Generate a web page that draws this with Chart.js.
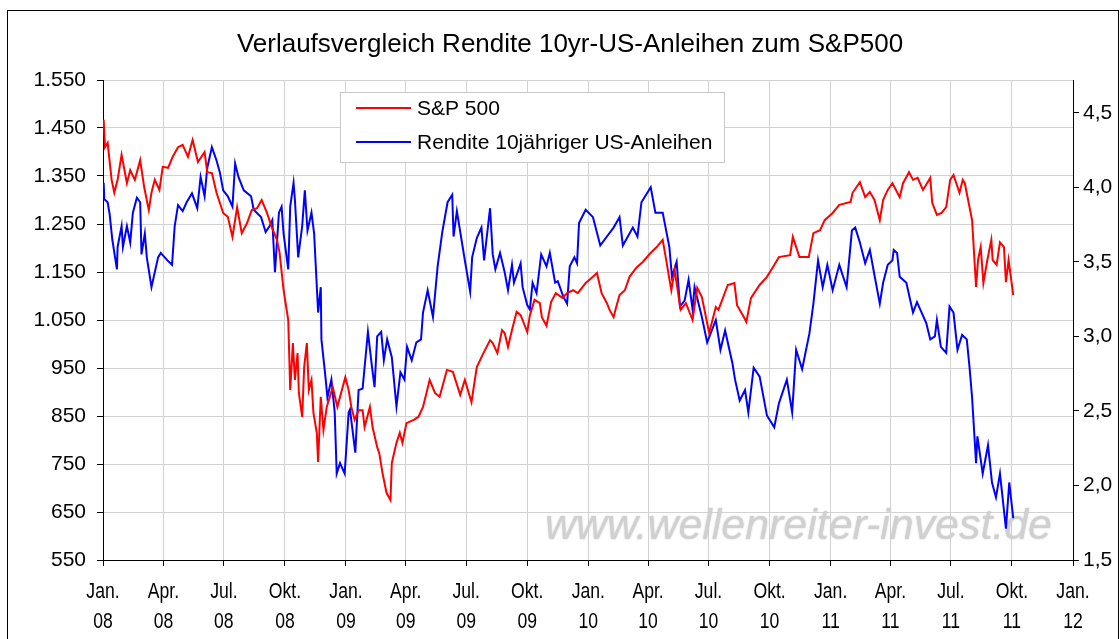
<!DOCTYPE html>
<html lang="de">
<head>
<meta charset="UTF-8">
<script src="https://cdn.jsdelivr.net/npm/chart.js"></script>
<title>Verlaufsvergleich Rendite 10yr-US-Anleihen zum S&amp;P500</title>
<style>
  html, body { margin: 0; padding: 0; background: #fff; }
  canvas { display: block; }
</style>
</head>
<body>
<canvas id="chart" width="1120" height="639"></canvas>
<script>
// S&P 500 (left axis)
var spDates = [
  '2008-01-02','2008-01-04','2008-01-08','2008-01-14','2008-01-18','2008-01-23','2008-01-29',
  '2008-02-06','2008-02-11','2008-02-18','2008-02-26',
  '2008-03-03','2008-03-10','2008-03-14','2008-03-19','2008-03-26','2008-03-31',
  '2008-04-08','2008-04-15','2008-04-23','2008-04-30',
  '2008-05-08','2008-05-15','2008-05-23',
  '2008-06-02','2008-06-06','2008-06-13','2008-06-20','2008-06-30',
  '2008-07-07','2008-07-14','2008-07-21','2008-07-28',
  '2008-08-05','2008-08-12','2008-08-20','2008-08-27',
  '2008-09-04','2008-09-11','2008-09-19','2008-09-23','2008-09-29',
  '2008-10-06','2008-10-09','2008-10-13','2008-10-16','2008-10-20','2008-10-22','2008-10-27','2008-10-30',
  '2008-11-03','2008-11-06','2008-11-10','2008-11-13','2008-11-18','2008-11-20','2008-11-24','2008-11-28',
  '2008-12-03','2008-12-12','2008-12-19','2008-12-31',
  '2009-01-05','2009-01-09','2009-01-14','2009-01-20','2009-01-26','2009-01-29',
  '2009-02-06','2009-02-10','2009-02-17','2009-02-20','2009-02-25',
  '2009-03-03','2009-03-09','2009-03-11','2009-03-18','2009-03-23','2009-03-27',
  '2009-04-02','2009-04-13','2009-04-20','2009-04-27',
  '2009-05-07','2009-05-15','2009-05-22',
  '2009-06-02','2009-06-11','2009-06-22','2009-06-29',
  '2009-07-09','2009-07-17','2009-07-27',
  '2009-08-06','2009-08-10','2009-08-17','2009-08-24','2009-08-28',
  '2009-09-02','2009-09-08','2009-09-15','2009-09-21','2009-09-24',
  '2009-10-01','2009-10-05','2009-10-12','2009-10-20','2009-10-23','2009-10-30',
  '2009-11-06','2009-11-13','2009-11-23','2009-11-30',
  '2009-12-09','2009-12-16','2009-12-28',
  '2010-01-08','2010-01-14','2010-01-21','2010-01-29',
  '2010-02-02','2010-02-08','2010-02-12','2010-02-17','2010-02-25',
  '2010-03-04','2010-03-15','2010-03-24',
  '2010-04-05','2010-04-14','2010-04-23','2010-04-27',
  '2010-05-06','2010-05-11','2010-05-20','2010-05-28',
  '2010-06-07','2010-06-14','2010-06-21',
  '2010-07-02','2010-07-12','2010-07-16','2010-07-30',
  '2010-08-09','2010-08-13','2010-08-24','2010-08-27',
  '2010-09-03','2010-09-16','2010-09-27',
  '2010-10-06','2010-10-15',
  '2010-11-01','2010-11-05','2010-11-15','2010-11-29',
  '2010-12-06','2010-12-16','2010-12-23',
  '2011-01-04','2011-01-14','2011-01-31',
  '2011-02-03','2011-02-14','2011-02-22',
  '2011-03-01','2011-03-08','2011-03-16','2011-03-21','2011-03-28',
  '2011-04-04','2011-04-15','2011-04-20','2011-04-29',
  '2011-05-05','2011-05-12','2011-05-20','2011-05-31',
  '2011-06-03','2011-06-10','2011-06-17','2011-06-24','2011-06-30',
  '2011-07-05','2011-07-14','2011-07-19','2011-07-22',
  '2011-08-02','2011-08-08','2011-08-11','2011-08-15','2011-08-19','2011-08-25','2011-08-31',
  '2011-09-02','2011-09-08','2011-09-13','2011-09-19','2011-09-22','2011-09-26',
  '2011-10-03'
];
var spValues = [
  1467,1410,1419,1342,1315,1342,1394,
  1335,1362,1342,1383,
  1327,1279,1315,1342,1321,1369,
  1367,1390,1410,1415,
  1390,1425,1379,
  1400,1358,1356,1315,1273,
  1265,1223,1285,1231,
  1252,1279,1283,1300,
  1273,1244,1217,1190,1112,
  1050,904,1002,925,981,898,848,952,
  1002,904,925,856,815,754,890,821,
  869,910,869,931,
  904,869,842,862,862,827,
  869,827,785,773,731,
  690,675,752,794,815,794,
  835,842,848,869,
  925,898,890,
  946,942,894,925,
  879,952,981,
  1008,1002,981,1029,1023,
  994,1029,1067,1060,1050,
  1025,1060,1092,1085,1056,1038,
  1088,1106,1096,1106,
  1112,1106,1127,
  1140,1148,1106,1085,
  1071,1056,1077,1102,1112,
  1140,1160,1171,
  1190,1202,1217,1185,
  1112,1154,1071,1085,
  1050,1117,1098,
  1023,1077,1071,1123,
  1127,1081,1054,1046,
  1096,1123,1140,
  1160,1181,
  1185,1223,1181,1181,
  1231,1237,1258,
  1273,1290,1296,
  1315,1337,1306,
  1317,1300,1258,1300,1321,
  1335,1306,1335,1358,
  1342,1346,1321,1346,
  1294,1269,1273,1285,1342,
  1352,1315,1342,1335,
  1258,1119,1175,1202,1127,1175,1217,
  1175,1165,1212,1202,1129,1175,
  1102
];

// Rendite 10jähriger US-Anleihen in % (right axis)
var yieldDates = [
  '2008-01-02','2008-01-03','2008-01-08','2008-01-11','2008-01-15','2008-01-22','2008-01-23','2008-01-29','2008-01-31',
  '2008-02-06','2008-02-11','2008-02-15','2008-02-21','2008-02-26','2008-02-28',
  '2008-03-04','2008-03-07','2008-03-14','2008-03-19','2008-03-24','2008-03-28',
  '2008-04-07','2008-04-14','2008-04-18','2008-04-23','2008-04-30',
  '2008-05-06','2008-05-14','2008-05-22','2008-05-27',
  '2008-06-02','2008-06-06','2008-06-13','2008-06-20','2008-06-25','2008-06-30',
  '2008-07-07','2008-07-14','2008-07-18','2008-07-23','2008-07-31',
  '2008-08-11','2008-08-15','2008-08-26',
  '2008-09-02','2008-09-08','2008-09-12','2008-09-16','2008-09-22','2008-09-26','2008-09-29',
  '2008-10-06','2008-10-09','2008-10-14','2008-10-16','2008-10-21','2008-10-27','2008-10-31',
  '2008-11-04','2008-11-10','2008-11-14','2008-11-20','2008-11-24','2008-11-25',
  '2008-12-01','2008-12-04','2008-12-10','2008-12-15','2008-12-18','2008-12-23','2008-12-30',
  '2009-01-05','2009-01-07','2009-01-15','2009-01-20','2009-01-26','2009-01-30',
  '2009-02-03','2009-02-09','2009-02-13','2009-02-17','2009-02-23','2009-02-27',
  '2009-03-04','2009-03-11','2009-03-18','2009-03-24','2009-03-30',
  '2009-04-03','2009-04-10','2009-04-17','2009-04-24','2009-04-27',
  '2009-05-04','2009-05-12','2009-05-19','2009-05-26',
  '2009-06-03','2009-06-10','2009-06-12','2009-06-17','2009-06-29',
  '2009-07-07','2009-07-10','2009-07-17','2009-07-24','2009-07-28',
  '2009-08-06','2009-08-10','2009-08-14','2009-08-21','2009-08-28',
  '2009-09-02','2009-09-08','2009-09-11','2009-09-21','2009-09-24',
  '2009-10-01','2009-10-05','2009-10-09','2009-10-15','2009-10-22','2009-10-30',
  '2009-11-04','2009-11-12','2009-11-16','2009-11-24','2009-11-30',
  '2009-12-04','2009-12-11','2009-12-15','2009-12-18','2009-12-28',
  '2010-01-08','2010-01-19','2010-01-29',
  '2010-02-08','2010-02-17','2010-02-22',
  '2010-03-09','2010-03-16','2010-03-22',
  '2010-04-05','2010-04-12','2010-04-23',
  '2010-05-03','2010-05-07','2010-05-14','2010-05-19','2010-05-26',
  '2010-06-01','2010-06-07','2010-06-10','2010-06-21','2010-06-29',
  '2010-07-12','2010-07-19','2010-07-26',
  '2010-08-06','2010-08-10','2010-08-17','2010-08-25','2010-08-30',
  '2010-09-07','2010-09-16','2010-09-27',
  '2010-10-08','2010-10-15','2010-10-27',
  '2010-11-04','2010-11-10','2010-11-19','2010-11-30',
  '2010-12-06','2010-12-13','2010-12-20','2010-12-27',
  '2011-01-04','2011-01-14','2011-01-25',
  '2011-02-02','2011-02-07','2011-02-14','2011-02-22',
  '2011-03-01','2011-03-08','2011-03-16','2011-03-21','2011-03-28',
  '2011-04-04','2011-04-06','2011-04-11','2011-04-15','2011-04-25',
  '2011-05-05','2011-05-11','2011-05-18','2011-05-25','2011-05-31',
  '2011-06-07','2011-06-10','2011-06-16','2011-06-24','2011-06-29',
  '2011-07-05','2011-07-11','2011-07-18','2011-07-25','2011-07-29',
  '2011-08-02','2011-08-08','2011-08-10','2011-08-18','2011-08-26',
  '2011-09-01','2011-09-07','2011-09-13','2011-09-22','2011-09-27',
  '2011-10-03'
];
var yieldValues = [
  4.03,3.92,3.90,3.82,3.65,3.45,3.60,3.74,3.60,
  3.74,3.63,3.83,3.93,3.90,3.55,
  3.69,3.53,3.33,3.43,3.53,3.56,
  3.51,3.48,3.74,3.88,3.84,
  3.90,3.96,3.86,4.07,
  3.94,4.13,4.27,4.18,4.10,3.98,
  3.94,3.87,4.16,4.07,3.98,
  3.94,3.85,3.80,
  3.70,3.74,3.78,3.43,3.83,3.87,3.69,
  3.45,3.87,4.03,3.92,3.53,3.74,3.98,
  3.71,3.83,3.69,3.16,3.33,2.98,
  2.73,2.59,2.71,2.49,2.08,2.15,2.08,
  2.49,2.51,2.22,2.64,2.65,2.84,
  3.03,2.80,2.66,3.00,3.03,2.84,
  2.98,2.86,2.53,2.76,2.71,
  2.93,2.84,2.96,2.98,3.16,
  3.31,3.13,3.47,3.70,
  3.90,3.95,3.67,3.84,3.51,
  3.30,3.53,3.66,3.73,3.51,
  3.86,3.55,3.45,3.56,3.43,
  3.31,3.48,3.36,3.49,3.33,
  3.21,3.18,3.36,3.29,3.55,3.47,
  3.56,3.36,3.37,3.27,3.22,
  3.47,3.53,3.49,3.76,3.85,
  3.80,3.61,3.67,
  3.73,3.80,3.61,
  3.73,3.67,3.90,
  4.00,3.83,3.83,
  3.60,3.40,3.50,3.20,3.24,
  3.38,3.18,3.33,3.13,2.96,
  3.11,2.91,3.04,
  2.82,2.71,2.57,2.64,2.49,
  2.79,2.73,2.47,
  2.39,2.55,2.71,
  2.49,2.91,2.78,3.02,
  3.22,3.51,3.33,3.48,
  3.31,3.48,3.33,
  3.71,3.73,3.63,3.49,
  3.58,3.41,3.22,3.36,3.48,
  3.51,3.58,3.56,3.40,3.36,
  3.16,3.23,3.16,3.09,2.98,
  3.00,3.11,2.93,2.89,3.20,
  3.16,2.91,3.01,2.98,2.80,
  2.59,2.15,2.33,2.08,2.27,
  2.02,1.92,2.08,1.71,2.02,
  1.78
];

// quarter ticks on the time axis
var tickDates = ['2008-01-01','2008-04-01','2008-07-01','2008-10-01',
                 '2009-01-01','2009-04-01','2009-07-01','2009-10-01',
                 '2010-01-01','2010-04-01','2010-07-01','2010-10-01',
                 '2011-01-01','2011-04-01','2011-07-01','2011-10-01','2012-01-01'];
var tickMonths = ['Jan.','Apr.','Jul.','Okt.','Jan.','Apr.','Jul.','Okt.',
                  'Jan.','Apr.','Jul.','Okt.','Jan.','Apr.','Jul.','Okt.','Jan.'];
var tickYears = ['08','08','08','08','09','09','09','09',
                 '10','10','10','10','11','11','11','11','12'];
var rightTicks = [1.5, 2.0, 2.5, 3.0, 3.5, 4.0, 4.5];

var FONT = '"Liberation Sans", Arial, sans-serif';

// days since 1 Jan 2008
function dayNo(s) {
  var p = s.split('-');
  return (Date.UTC(+p[0], +p[1] - 1, +p[2]) - Date.UTC(2008, 0, 1)) / 86400000;
}
function toPoints(dates, values) {
  var n = Math.min(dates.length, values.length);
  var out = [];
  for (var i = 0; i < n; i++) out.push({ x: dayNo(dates[i]), y: values[i] });
  return out;
}
var tickDays = tickDates.map(dayNo);

function fmtThousand(v) {
  var s = String(Math.round(v));
  return s.length > 3 ? s.slice(0, s.length - 3) + '.' + s.slice(-3) : s;
}

// frame, title, legend, watermark and x labels
var decorations = {
  id: 'decorations',
  beforeDraw: function (chart) {
    var ctx = chart.ctx;
    ctx.save();
    ctx.fillStyle = '#fff';
    ctx.fillRect(0, 0, chart.width, chart.height);
    ctx.strokeStyle = '#000';
    ctx.lineWidth = 1;
    ctx.strokeRect(7.5, 10.5, 1111, 700);
    ctx.restore();
  },
  beforeDatasetsDraw: function (chart) {
    var ctx = chart.ctx;
    ctx.save();
    var text = 'www.wellenreiter-invest.de';
    ctx.font = 'italic 38px ' + FONT;
    var w = ctx.measureText(text).width;
    var size = 38 * 507 / w;
    ctx.font = 'italic ' + size.toFixed(1) + 'px ' + FONT;
    ctx.fillStyle = '#d0d0d0';
    ctx.shadowColor = 'rgba(170,170,170,0.6)';
    ctx.shadowBlur = 2;
    ctx.textBaseline = 'alphabetic';
    ctx.fillText(text, 545, 539);
    ctx.restore();
  },
  afterDraw: function (chart) {
    var ctx = chart.ctx;
    ctx.save();
    // title
    ctx.fillStyle = '#000';
    ctx.font = '26px ' + FONT;
    ctx.textAlign = 'center';
    ctx.textBaseline = 'alphabetic';
    ctx.fillText('Verlaufsvergleich Rendite 10yr-US-Anleihen zum S&P500', 570, 52);

    // legend
    ctx.fillStyle = '#fff';
    ctx.fillRect(340.5, 92.5, 384, 70);
    ctx.strokeStyle = '#c8c8c8';
    ctx.lineWidth = 1;
    ctx.strokeRect(340.5, 92.5, 384, 70);
    var items = [
      { label: chart.data.datasets[0].label, color: chart.data.datasets[0].borderColor, y: 108 },
      { label: chart.data.datasets[1].label, color: chart.data.datasets[1].borderColor, y: 142 }
    ];
    ctx.font = '21px ' + FONT;
    ctx.textAlign = 'left';
    ctx.textBaseline = 'middle';
    items.forEach(function (it) {
      ctx.strokeStyle = it.color;
      ctx.lineWidth = 2;
      ctx.beginPath();
      ctx.moveTo(356, it.y);
      ctx.lineTo(411, it.y);
      ctx.stroke();
      ctx.fillStyle = '#000';
      ctx.fillText(it.label, 417, it.y + 1);
    });

    // two-line date labels, drawn narrow like the original
    var xs = chart.scales.x;
    ctx.font = '22px ' + FONT;
    ctx.textAlign = 'center';
    ctx.textBaseline = 'alphabetic';
    ctx.fillStyle = '#000';
    tickDays.forEach(function (d, i) {
      var px = xs.getPixelForValue(d);
      ctx.save();
      ctx.translate(px, 0);
      ctx.scale(0.8, 1);
      ctx.fillText(tickMonths[i], 0, 598);
      ctx.fillText(tickYears[i], 0, 628);
      ctx.restore();
    });
    ctx.restore();
  }
};

var ctx = document.getElementById('chart').getContext('2d');
new Chart(ctx, {
  type: 'line',
  data: {
    datasets: [
      {
        label: 'S&P 500',
        data: toPoints(spDates, spValues),
        yAxisID: 'y',
        borderColor: '#ff0000',
        borderWidth: 2,
        pointRadius: 0,
        tension: 0
      },
      {
        label: 'Rendite 10jähriger US-Anleihen',
        data: toPoints(yieldDates, yieldValues),
        yAxisID: 'y2',
        borderColor: '#0000ff',
        borderWidth: 2,
        pointRadius: 0,
        tension: 0
      }
    ]
  },
  options: {
    responsive: false,
    animation: false,
    devicePixelRatio: 1,
    layout: { padding: { top: 80, left: 0, right: 0, bottom: 0 } },
    plugins: {
      legend: { display: false },
      title: { display: false },
      tooltip: { enabled: false }
    },
    scales: {
      x: {
        type: 'linear',
        position: 'bottom',
        min: 0,
        max: tickDays[tickDays.length - 1],
        afterBuildTicks: function (s) { s.ticks = tickDays.map(function (v) { return { value: v }; }); },
        afterFit: function (s) { s.height = 79; },
        ticks: { display: false, autoSkip: false, maxRotation: 0 },
        grid: { color: '#d2d2d2', tickColor: '#000', tickLength: 6, lineWidth: 1 },
        border: { color: '#000', width: 1 }
      },
      y: {
        type: 'linear',
        position: 'left',
        min: 550,
        max: 1550,
        afterFit: function (s) { s.width = 103; },
        ticks: {
          stepSize: 100,
          padding: 11,
          color: '#000',
          font: { family: FONT, size: 21 },
          callback: function (v) { return fmtThousand(v); }
        },
        grid: { color: '#d2d2d2', tickColor: '#000', tickLength: 6, lineWidth: 1 },
        border: { color: '#000', width: 1 }
      },
      y2: {
        type: 'linear',
        position: 'right',
        min: 1.5,
        max: 4.72,
        afterBuildTicks: function (s) { s.ticks = rightTicks.map(function (v) { return { value: v }; }); },
        afterFit: function (s) { s.width = 47; },
        ticks: {
          padding: 4,
          color: '#000',
          font: { family: FONT, size: 21 },
          callback: function (v) { return v.toFixed(1).replace('.', ','); }
        },
        grid: { drawOnChartArea: false, tickColor: '#000', tickLength: 6 },
        border: { color: '#000', width: 1 }
      }
    }
  },
  plugins: [decorations]
});
</script>
</body>
</html>
